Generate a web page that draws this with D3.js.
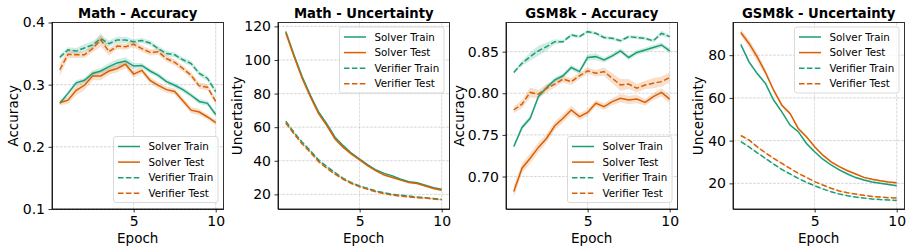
<!DOCTYPE html>
<html>
<head>
<meta charset="utf-8">
<script src="https://cdn.jsdelivr.net/npm/d3@7"></script>
<style>
body { margin: 0; background: #fff; }
svg { font-family: "DejaVu Sans", sans-serif; }
.grid line { stroke: #b0b0b0; stroke-width: 0.7; stroke-dasharray: 2.8,1.2; opacity: 0.7; }
.axis path, .axis line { stroke: #000; stroke-width: 0.8; }
.axis text { font-family: "DejaVu Sans", sans-serif; font-size: 14px; fill: #000; }
</style>
</head>
<body>
<svg id="chart" width="913" height="252"></svg>
<script>
// epochs (0.5 .. 10)
var epochs = [0.5, 1, 1.5, 2, 2.5, 3, 3.5, 4, 4.5, 5, 5.5, 6, 6.5, 7, 7.5, 8, 8.5, 9, 9.5, 10];
var seriesNames = ["Solver Train", "Solver Test", "Verifier Train", "Verifier Test"];
var panelTitles = ["Math - Accuracy", "Math - Uncertainty", "GSM8k - Accuracy", "GSM8k - Uncertainty"];
var yLabels = ["Accuracy", "Uncertainty", "Accuracy", "Uncertainty"];

// Math - Accuracy
var mathAccSolverTrain   = [0.270, 0.286, 0.303, 0.307, 0.318, 0.322, 0.329, 0.335, 0.338, 0.330, 0.331, 0.322, 0.315, 0.305, 0.299, 0.292, 0.283, 0.273, 0.270, 0.252];
var mathAccSolverTest    = [0.271, 0.275, 0.291, 0.299, 0.314, 0.314, 0.322, 0.326, 0.333, 0.317, 0.323, 0.307, 0.299, 0.292, 0.289, 0.274, 0.259, 0.256, 0.248, 0.239];
var mathAccVerifierTrain = [0.344, 0.356, 0.354, 0.359, 0.364, 0.374, 0.366, 0.372, 0.372, 0.369, 0.371, 0.367, 0.358, 0.350, 0.348, 0.340, 0.334, 0.318, 0.310, 0.289];
var mathAccVerifierTest  = [0.324, 0.349, 0.348, 0.348, 0.358, 0.372, 0.353, 0.362, 0.361, 0.365, 0.358, 0.352, 0.353, 0.342, 0.336, 0.326, 0.315, 0.298, 0.296, 0.273];
var mathAccSolverTrainBand   = [0.003, 0.004, 0.004, 0.004, 0.005, 0.005, 0.006, 0.006, 0.006, 0.005, 0.004, 0.004, 0.004, 0.004, 0.004, 0.004, 0.004, 0.004, 0.004, 0.004];
var mathAccSolverTestBand    = [0.004, 0.006, 0.008, 0.008, 0.007, 0.007, 0.006, 0.006, 0.006, 0.006, 0.005, 0.005, 0.005, 0.005, 0.005, 0.005, 0.005, 0.005, 0.004, 0.004];
var mathAccVerifierTrainBand = [0.004, 0.004, 0.005, 0.006, 0.006, 0.006, 0.005, 0.005, 0.005, 0.004, 0.004, 0.004, 0.004, 0.004, 0.004, 0.004, 0.004, 0.004, 0.004, 0.004];
var mathAccVerifierTestBand  = [0.010, 0.006, 0.005, 0.005, 0.006, 0.011, 0.006, 0.005, 0.005, 0.005, 0.005, 0.005, 0.005, 0.005, 0.005, 0.005, 0.005, 0.005, 0.005, 0.005];

// Math - Uncertainty
var mathUncSolverTrain   = [117, 103, 90, 79, 69, 62, 54, 49, 44.5, 41, 37.5, 34.5, 32.5, 31, 29, 27.5, 27, 25.5, 24, 23];
var mathUncSolverTest    = [116, 102, 89, 78, 68, 61, 53, 48, 44, 40.5, 37, 34, 31.5, 30, 28.5, 27, 26.5, 25, 23.5, 22.5];
var mathUncVerifierTrain = [63.5, 57, 51, 46, 40.5, 36.5, 33, 29.5, 27, 25, 23.5, 22, 21, 20, 19.5, 19, 18.5, 18, 17.5, 17];
var mathUncVerifierTest  = [62.5, 56, 50, 45, 39.5, 35.5, 32, 29, 26.5, 24.5, 23, 21.5, 20.5, 19.5, 19, 18.5, 18, 17.8, 17.2, 16.8];
var mathUncSolverTrainBand   = [0.6, 0.6, 0.6, 0.6, 0.6, 0.6, 0.5, 0.5, 0.5, 0.5, 0.4, 0.4, 0.4, 0.4, 0.4, 0.4, 0.4, 0.4, 0.4, 0.4];
var mathUncSolverTestBand    = [0.6, 0.6, 0.6, 0.6, 0.6, 0.6, 0.5, 0.5, 0.5, 0.5, 0.4, 0.4, 0.4, 0.4, 0.4, 0.4, 0.4, 0.4, 0.4, 0.4];
var mathUncVerifierTrainBand = [0.5, 0.5, 0.5, 0.5, 0.5, 0.5, 0.4, 0.4, 0.4, 0.4, 0.3, 0.3, 0.3, 0.3, 0.3, 0.3, 0.3, 0.3, 0.3, 0.3];
var mathUncVerifierTestBand  = [0.5, 0.5, 0.5, 0.5, 0.5, 0.5, 0.4, 0.4, 0.4, 0.4, 0.3, 0.3, 0.3, 0.3, 0.3, 0.3, 0.3, 0.3, 0.3, 0.3];

// GSM8k - Accuracy
var gsmAccSolverTrain   = [0.736, 0.759, 0.770, 0.796, 0.807, 0.816, 0.821, 0.831, 0.826, 0.843, 0.844, 0.840, 0.845, 0.851, 0.843, 0.849, 0.852, 0.855, 0.858, 0.851];
var gsmAccSolverTest    = [0.682, 0.710, 0.722, 0.735, 0.746, 0.761, 0.770, 0.780, 0.772, 0.777, 0.788, 0.784, 0.790, 0.794, 0.792, 0.793, 0.789, 0.796, 0.801, 0.793];
var gsmAccVerifierTrain = [0.825, 0.836, 0.844, 0.851, 0.856, 0.862, 0.862, 0.870, 0.868, 0.874, 0.872, 0.867, 0.866, 0.863, 0.868, 0.867, 0.866, 0.863, 0.872, 0.868];
var gsmAccVerifierTest  = [0.780, 0.787, 0.801, 0.799, 0.806, 0.811, 0.817, 0.814, 0.821, 0.827, 0.824, 0.826, 0.818, 0.810, 0.811, 0.806, 0.810, 0.812, 0.814, 0.819];
var gsmAccSolverTrainBand   = [0.003, 0.003, 0.003, 0.003, 0.003, 0.003, 0.003, 0.003, 0.003, 0.004, 0.004, 0.003, 0.003, 0.003, 0.003, 0.003, 0.003, 0.003, 0.003, 0.003];
var gsmAccSolverTestBand    = [0.007, 0.006, 0.006, 0.006, 0.005, 0.005, 0.005, 0.005, 0.004, 0.004, 0.004, 0.004, 0.004, 0.005, 0.005, 0.005, 0.004, 0.004, 0.005, 0.005];
var gsmAccVerifierTrainBand = [0.002, 0.003, 0.005, 0.006, 0.005, 0.003, 0.002, 0.002, 0.002, 0.002, 0.002, 0.002, 0.002, 0.002, 0.002, 0.002, 0.002, 0.002, 0.003, 0.002];
var gsmAccVerifierTestBand  = [0.004, 0.005, 0.006, 0.005, 0.005, 0.004, 0.004, 0.004, 0.004, 0.004, 0.004, 0.005, 0.006, 0.007, 0.006, 0.005, 0.005, 0.006, 0.006, 0.006];

// GSM8k - Uncertainty
var gsmUncSolverTrain   = [85, 76.9, 71.4, 66.8, 59, 53.5, 47.3, 44.2, 38.7, 34.8, 31.3, 28.6, 26.3, 24.4, 22.7, 21.6, 20.6, 20, 19.5, 18.9];
var gsmUncSolverTest    = [90.6, 85.5, 79.2, 72, 63.6, 56.6, 52.7, 45.7, 41.8, 37.1, 33.2, 30.1, 27.8, 25.9, 24.4, 22.8, 21.9, 21.2, 20.6, 20.3];
var gsmUncVerifierTrain = [39.5, 37.1, 34.3, 31.7, 29, 26.5, 24.4, 22.3, 20.5, 18.9, 17.4, 16.1, 15, 14.2, 13.6, 13.1, 12.7, 12.4, 12.2, 12];
var gsmUncVerifierTest  = [42.4, 40.3, 37.1, 34.3, 31.7, 29.4, 27, 24.7, 22.8, 20.8, 19.2, 17.7, 16.4, 15.6, 15, 14.4, 13.9, 13.6, 13.3, 13.1];
var gsmUncSolverTrainBand   = [1.0, 0.8, 0.7, 0.6, 0.6, 0.6, 0.5, 0.5, 0.5, 0.5, 0.4, 0.4, 0.4, 0.4, 0.4, 0.4, 0.4, 0.4, 0.4, 0.4];
var gsmUncSolverTestBand    = [1.5, 2.0, 2.0, 1.5, 1.0, 0.8, 0.8, 0.6, 0.6, 0.5, 0.5, 0.5, 0.4, 0.4, 0.4, 0.4, 0.4, 0.4, 0.4, 0.4];
var gsmUncVerifierTrainBand = [0.4, 0.4, 0.4, 0.4, 0.4, 0.4, 0.3, 0.3, 0.3, 0.3, 0.3, 0.3, 0.3, 0.3, 0.3, 0.3, 0.3, 0.3, 0.3, 0.3];
var gsmUncVerifierTestBand  = [0.4, 0.4, 0.4, 0.4, 0.4, 0.4, 0.3, 0.3, 0.3, 0.3, 0.3, 0.3, 0.3, 0.3, 0.3, 0.3, 0.3, 0.3, 0.3, 0.3];

// y tick values / domains per panel
var yTicks = [[0.1, 0.2, 0.3, 0.4], [20, 40, 60, 80, 100, 120], [0.70, 0.75, 0.80, 0.85], [20, 40, 60, 80]];
var yDomains = [[0.1, 0.4], [11.3, 122.3], [0.661, 0.885], [8.0, 95.3]];
var yFormats = [".1f", "d", ".2f", "d"];
var xTicks = [5, 10];

var panelValues = [
	[mathAccSolverTrain, mathAccSolverTest, mathAccVerifierTrain, mathAccVerifierTest],
	[mathUncSolverTrain, mathUncSolverTest, mathUncVerifierTrain, mathUncVerifierTest],
	[gsmAccSolverTrain, gsmAccSolverTest, gsmAccVerifierTrain, gsmAccVerifierTest],
	[gsmUncSolverTrain, gsmUncSolverTest, gsmUncVerifierTrain, gsmUncVerifierTest]
];
var panelBands = [
	[mathAccSolverTrainBand, mathAccSolverTestBand, mathAccVerifierTrainBand, mathAccVerifierTestBand],
	[mathUncSolverTrainBand, mathUncSolverTestBand, mathUncVerifierTrainBand, mathUncVerifierTestBand],
	[gsmAccSolverTrainBand, gsmAccSolverTestBand, gsmAccVerifierTrainBand, gsmAccVerifierTestBand],
	[gsmUncSolverTrainBand, gsmUncSolverTestBand, gsmUncVerifierTrainBand, gsmUncVerifierTestBand]
];

var green = "#1b9e77", orange = "#d95f02";
var seriesColor = [green, orange, green, orange];
var seriesDash = [null, null, "5.5,2.4", "5.5,2.4"];

var svg = d3.select("#chart");
var panelLeft = [52, 278, 506, 733],
	panelW = 171.5,
	marginTop = 22.5,
	axisBottom = 209;
var legendPos = ["lower", "upper", "lower", "upper"];
var yLabelX = [13, 237, 459, 698];

var x = d3.scaleLinear().domain([0.025, 10.475]).range([0, panelW]);

for (var p = 0; p < 4; p++) {
	var g = svg.append("g").attr("transform", "translate(" + panelLeft[p] + "," + marginTop + ")");
	var h = axisBottom - marginTop;
	var y = d3.scaleLinear().domain(yDomains[p]).range([h, 0]);

	// grid
	var grid = g.append("g").attr("class", "grid");
	grid.selectAll(".gx").data(xTicks).enter().append("line")
		.attr("x1", function(d) { return x(d); }).attr("x2", function(d) { return x(d); })
		.attr("y1", 0).attr("y2", h);
	grid.selectAll(".gy").data(yTicks[p]).enter().append("line")
		.attr("y1", function(d) { return y(d); }).attr("y2", function(d) { return y(d); })
		.attr("x1", 0).attr("x2", panelW);

	var clip = "clip" + p;
	g.append("clipPath").attr("id", clip).append("rect").attr("width", panelW).attr("height", h);
	var plot = g.append("g").attr("clip-path", "url(#" + clip + ")");

	// bands
	for (var s = 0; s < 4; s++) {
		var vals = panelValues[p][s], band = panelBands[p][s];
		var area = d3.area()
			.x(function(d, i) { return x(epochs[i]); })
			.y0(function(d, i) { return y(d - band[i]); })
			.y1(function(d, i) { return y(d + band[i]); });
		plot.append("path").datum(vals)
			.attr("d", area)
			.attr("fill", seriesColor[s])
			.attr("fill-opacity", 0.2);
	}
	// lines
	for (var s = 0; s < 4; s++) {
		var line = d3.line().x(function(d, i) { return x(epochs[i]); }).y(function(d) { return y(d); });
		plot.append("path").datum(panelValues[p][s])
			.attr("d", line)
			.attr("fill", "none")
			.attr("stroke", seriesColor[s])
			.attr("stroke-width", 1.5)
			.attr("stroke-dasharray", seriesDash[s]);
	}

	// axes
	g.append("g").attr("class", "axis")
		.attr("transform", "translate(0," + h + ")")
		.call(d3.axisBottom(x).tickValues(xTicks).tickSize(3.5).tickPadding(3.5).tickSizeOuter(0));
	g.append("g").attr("class", "axis")
		.call(d3.axisLeft(y).tickValues(yTicks[p]).tickFormat(d3.format(yFormats[p])).tickSize(3.5).tickPadding(3.5).tickSizeOuter(0));
	g.append("rect").attr("width", panelW).attr("height", h)
		.attr("fill", "none").attr("stroke", "#000").attr("stroke-width", 0.8);

	// title & labels
	g.append("text").attr("x", panelW / 2).attr("y", -5)
		.attr("text-anchor", "middle").attr("font-weight", "bold").attr("font-size", 13.2)
		.text(panelTitles[p]);
	g.append("text").attr("x", panelW / 2).attr("y", h + 34)
		.attr("text-anchor", "middle").attr("font-size", 13.5)
		.text("Epoch");
	svg.append("text")
		.attr("transform", "translate(" + yLabelX[p] + "," + (marginTop + h / 2) + ") rotate(-90)")
		.attr("text-anchor", "middle").attr("dominant-baseline", "central").attr("font-size", 13.5)
		.text(yLabels[p]);

	// legend
	var lw = 104.5, lh = 66;
	var lx = panelW - lw - 5.5;
	var ly = legendPos[p] === "lower" ? h - lh - 6.5 : 4.5;
	var leg = g.append("g").attr("transform", "translate(" + lx + "," + ly + ")");
	leg.append("rect").attr("width", lw).attr("height", lh).attr("rx", 2.5)
		.attr("fill", "#fff").attr("fill-opacity", 0.8)
		.attr("stroke", "#d0d0d0").attr("stroke-width", 0.8);
	seriesNames.forEach(function(name, i) {
		var ry = 10 + i * 15.6;
		leg.append("line").attr("x1", 4.5).attr("x2", 26.5).attr("y1", ry).attr("y2", ry)
			.attr("stroke", seriesColor[i]).attr("stroke-width", 1.5)
			.attr("stroke-dasharray", seriesDash[i]);
		leg.append("text").attr("x", 35).attr("y", ry).attr("dy", "0.35em")
			.attr("font-size", 10.3).text(name);
	});
}
</script>
</body>
</html>
